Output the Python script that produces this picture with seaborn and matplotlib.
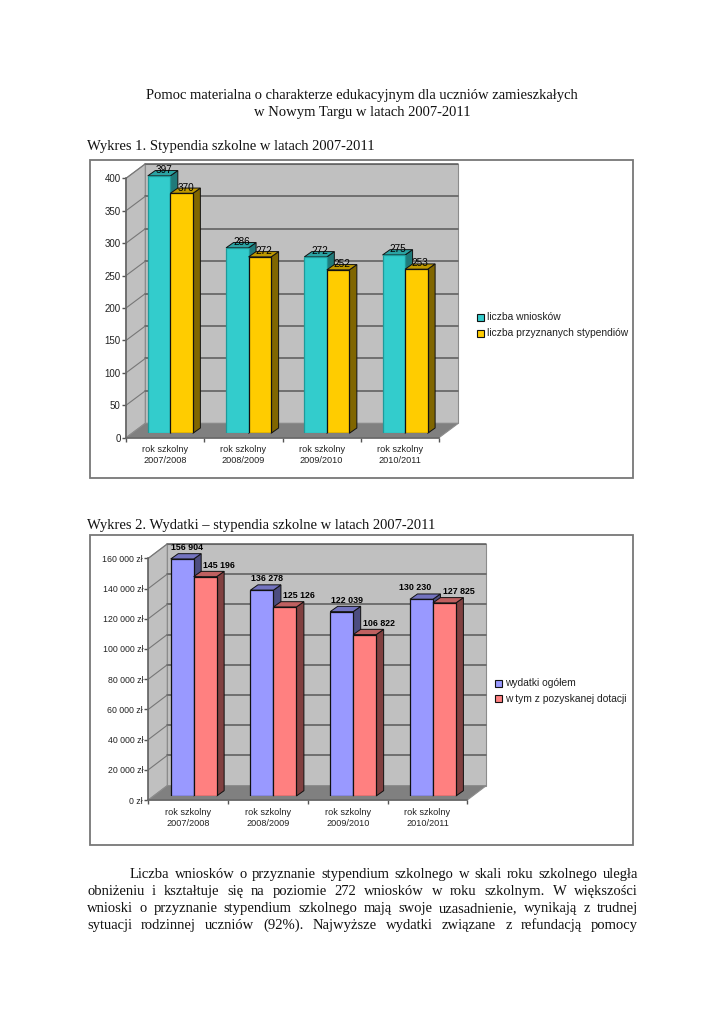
import matplotlib
matplotlib.use("Agg")
import matplotlib.pyplot as plt
import pandas as pd
import seaborn as sns
from matplotlib.patches import Polygon, Rectangle
from matplotlib.transforms import IdentityTransform

W, H = 724, 1024

years = ["rok szkolny\n2007/2008", "rok szkolny\n2008/2009", "rok szkolny\n2009/2010", "rok szkolny\n2010/2011"]

wnioski = [397, 286, 272, 275]
przyznane = [370, 272, 252, 253]
wnioski_ticks = [0, 50, 100, 150, 200, 250, 300, 350, 400]

wydatki = [156904, 136278, 122039, 130230]
dotacja = [145196, 125126, 106822, 127825]
wydatki_ticks = [0, 20000, 40000, 60000, 80000, 100000, 120000, 140000, 160000]

sns.set_theme(style="white")
plt.rcParams["font.family"] = ["Liberation Sans", "DejaVu Sans"]

fig = plt.figure(figsize=(W / 100, H / 100), dpi=100)


def rect(l, t, r, b):
    return [l / W, 1 - b / H, (r - l) / W, (b - t) / H]


def pts(coords):
    # pixel coords from the top left of the page -> figure fraction
    return [(x / W, 1 - y / H) for x, y in coords]


def label_up(bold):
    return 11.5 if bold else 5.8


def plain(v):
    return str(int(v))


def spaced(v):
    return f"{int(v):,}".replace(",", " ")


def zloty(v):
    return spaced(v) + " zł"


def chart(frame, front, back, bar_shift, series, colors, ticks, ymax, fmt, value_fmt, bold, legend_at, label_dx,
          tick_size, value_size, moved=None):
    l, t, r, b = front
    dx, dy = back
    fx0, fy0, fx1, fy1 = frame
    fig.add_artist(Rectangle((fx0 / W, 1 - fy1 / H), (fx1 - fx0) / W, (fy1 - fy0) / H,
                             transform=fig.transFigure, fc="white", ec="#777777", lw=1.3, zorder=0.5))

    ax = fig.add_axes(rect(l, t, r, b), facecolor="none", zorder=2)
    ax.set_xlim(-0.5, 3.5)
    ax.set_ylim(0, ymax)

    # walls and floor
    wall = "#C0C0C0"
    for shape, c in [([(l, b), (l, t), (l + dx, t - dy), (l + dx, b - dy)], wall),
                     ([(l + dx, t - dy), (r + dx, t - dy), (r + dx, b - dy), (l + dx, b - dy)], wall),
                     ([(l, b), (r, b), (r + dx, b - dy), (l + dx, b - dy)], "#808080")]:
        fig.add_artist(Polygon(pts(shape), closed=True, transform=fig.transFigure, fc=c, ec="#8c8c8c", lw=0.8, zorder=1))
    # grid on the walls
    for v in ticks[1:]:
        y = b - (b - t) * v / ymax
        fig.add_artist(plt.Line2D([(l + dx) / W, (r + dx) / W], [1 - (y - dy) / H] * 2, color="#5a5a5a", lw=1.1, zorder=1.5))
        fig.add_artist(plt.Line2D([l / W, (l + dx) / W], [1 - y / H, 1 - (y - dy) / H], color="#777777", lw=0.8, zorder=1.5))

    ax.set_yticks(ticks)
    ax.set_yticklabels([fmt(v) for v in ticks])
    ax.set_xticks(range(4))
    ax.set_xticklabels(years, linespacing=1.3)
    ax.set_xticks([-0.5, 0.5, 1.5, 2.5, 3.5], minor=True)
    ax.tick_params(axis="x", which="major", length=0, labelsize=6.6, pad=5.5, colors="#222222")
    ax.tick_params(axis="x", which="minor", length=3, width=1, color="#555555", bottom=True)
    ax.tick_params(axis="y", length=3, width=1, color="#555555", left=True, labelsize=tick_size, pad=0.8, labelcolor="#222222")
    for s in ["top", "right"]:
        ax.spines[s].set_visible(False)
    for s in ["left", "bottom"]:
        ax.spines[s].set_color("#666666")
        ax.spines[s].set_linewidth(1.2)

    # bars sit a little inside the floor
    sx, sy = bar_shift
    bx = fig.add_axes(rect(l + sx, t - sy, r + sx, b - sy), facecolor="none", zorder=3)
    df = pd.DataFrame({"rok": years * 2,
                       "wartosc": series[0][1] + series[1][1],
                       "seria": [series[0][0]] * 4 + [series[1][0]] * 4})
    sns.barplot(data=df, x="rok", y="wartosc", hue="seria", ax=bx, width=0.576, gap=0,
                palette=[c[0] for c in colors], saturation=1, legend=False, zorder=3)
    bx.set_xlim(-0.5, 3.5)
    bx.set_ylim(0, ymax)
    bx.axis("off")

    fig.canvas.draw()
    ddx, ddy = 7.5, 5.3
    for i, cont in enumerate(bx.containers):
        face, side, top, edge = colors[i]
        for j, p in enumerate(cont.patches):
            p.set_edgecolor(edge)
            p.set_linewidth(0.9)
            p.set_zorder(5 + j * 2 + i)
            (x0, y0), (x1, y1) = bx.transData.transform([(p.get_x(), 0), (p.get_x() + p.get_width(), p.get_height())])
            bx.add_patch(Polygon([(x1, y0), (x1 + ddx, y0 + ddy), (x1 + ddx, y1 + ddy), (x1, y1)], closed=True,
                                 transform=IdentityTransform(), fc=side, ec="#111111", lw=0.7, zorder=4 + j * 2 + i, clip_on=False))
            bx.add_patch(Polygon([(x0, y1), (x1, y1), (x1 + ddx, y1 + ddy), (x0 + ddx, y1 + ddy)], closed=True,
                                 transform=IdentityTransform(), fc=top, ec="#111111", lw=0.7, zorder=4 + j * 2 + i, clip_on=False))
            off = label_dx[i]
            if moved and (i, j) in moved:
                off = moved[(i, j)]
            bx.annotate(value_fmt(p.get_height()), ((x0 + x1) / 2 + off, y1 + label_up(bold)), xycoords="figure pixels",
                        ha="center", va="center", fontsize=value_size, color="black",
                        fontweight="bold" if bold else "normal", zorder=30, annotation_clip=False)

    # legend
    lx, ly, gap = legend_at
    for i, (name, _) in enumerate(series):
        y = ly + i * gap
        fig.add_artist(Rectangle((lx / W, 1 - (y + 3.5) / H), 7 / W, 7 / H, transform=fig.transFigure,
                                 fc=colors[i][0], ec="#111111", lw=0.8))
        fig.text((lx + 10) / W, 1 - y / H, name, fontsize=7.35, va="center", color="#222222")


chart(frame=(89.5, 160, 633, 478), front=(126, 178.3, 439, 437.7), back=(19.3, 14.4), bar_shift=(5.2, 4.4),
      series=[("liczba wniosków", wnioski), ("liczba przyznanych stypendiów", przyznane)],
      colors=[("#33CCCC", "#1F7A7A", "#2AA3A3", "#1F9A9A"), ("#FFCC00", "#806600", "#BF9900", "#111111")],
      ticks=wnioski_ticks, ymax=400, fmt=plain, value_fmt=plain, bold=False, legend_at=(477, 317.5, 16), label_dx=[4.5, 4],
      tick_size=7.0, value_size=7.2)

chart(frame=(89.5, 535, 633, 844.5), front=(148.3, 558.3, 467.3, 800), back=(19, 14.4), bar_shift=(5.5, 4),
      series=[("wydatki ogółem", wydatki), ("w tym z pozyskanej dotacji", dotacja)],
      colors=[("#9999FF", "#4D4D80", "#7373BF", "#111111"), ("#FF8080", "#804040", "#BF6060", "#111111")],
      ticks=wydatki_ticks, ymax=160000, fmt=zloty, value_fmt=spaced, bold=True, legend_at=(495, 683, 15.5), label_dx=[5, 14],
      tick_size=6.3, value_size=6.4, moved={(0, 3): -6.5})

# the document text around the charts
serif = ["Liberation Serif", "DejaVu Serif"]
SIZE = 10.55


def line(x, y, s, **kw):
    return fig.text(x / W, 1 - y / H, s, family=serif, fontsize=SIZE, va="baseline", color="#111111", **kw)


line(362, 99, "Pomoc materialna o charakterze edukacyjnym dla uczniów zamieszkałych", ha="center")
line(362, 116, "w Nowym Targu w latach 2007-2011", ha="center")
line(87, 150, "Wykres 1. Stypendia szkolne w latach 2007-2011")
line(87, 529, "Wykres 2. Wydatki – stypendia szkolne w latach 2007-2011")

paragraph = [
    (130, 878, "Liczba wniosków o przyznanie stypendium szkolnego w skali roku szkolnego uległa"),
    (87, 895, "obniżeniu i kształtuje się na poziomie 272 wniosków w roku szkolnym. W większości"),
    (87, 912, "wnioski o przyznanie stypendium szkolnego mają swoje uzasadnienie, wynikają z trudnej"),
    (87, 929, "sytuacji rodzinnej uczniów (92%). Najwyższe wydatki związane z refundacją pomocy"),
]
renderer = fig.canvas.get_renderer()
for x0, y, s in paragraph:
    words = s.split(" ")
    items = [line(x0, y, w) for w in words]
    widths = [it.get_window_extent(renderer).width for it in items]
    space = (638 - x0 - sum(widths)) / (len(words) - 1)
    x = x0
    for it, w in zip(items, widths):
        it.set_x(x / W)
        x += w + space

fig.savefig("out.png", dpi=100)
